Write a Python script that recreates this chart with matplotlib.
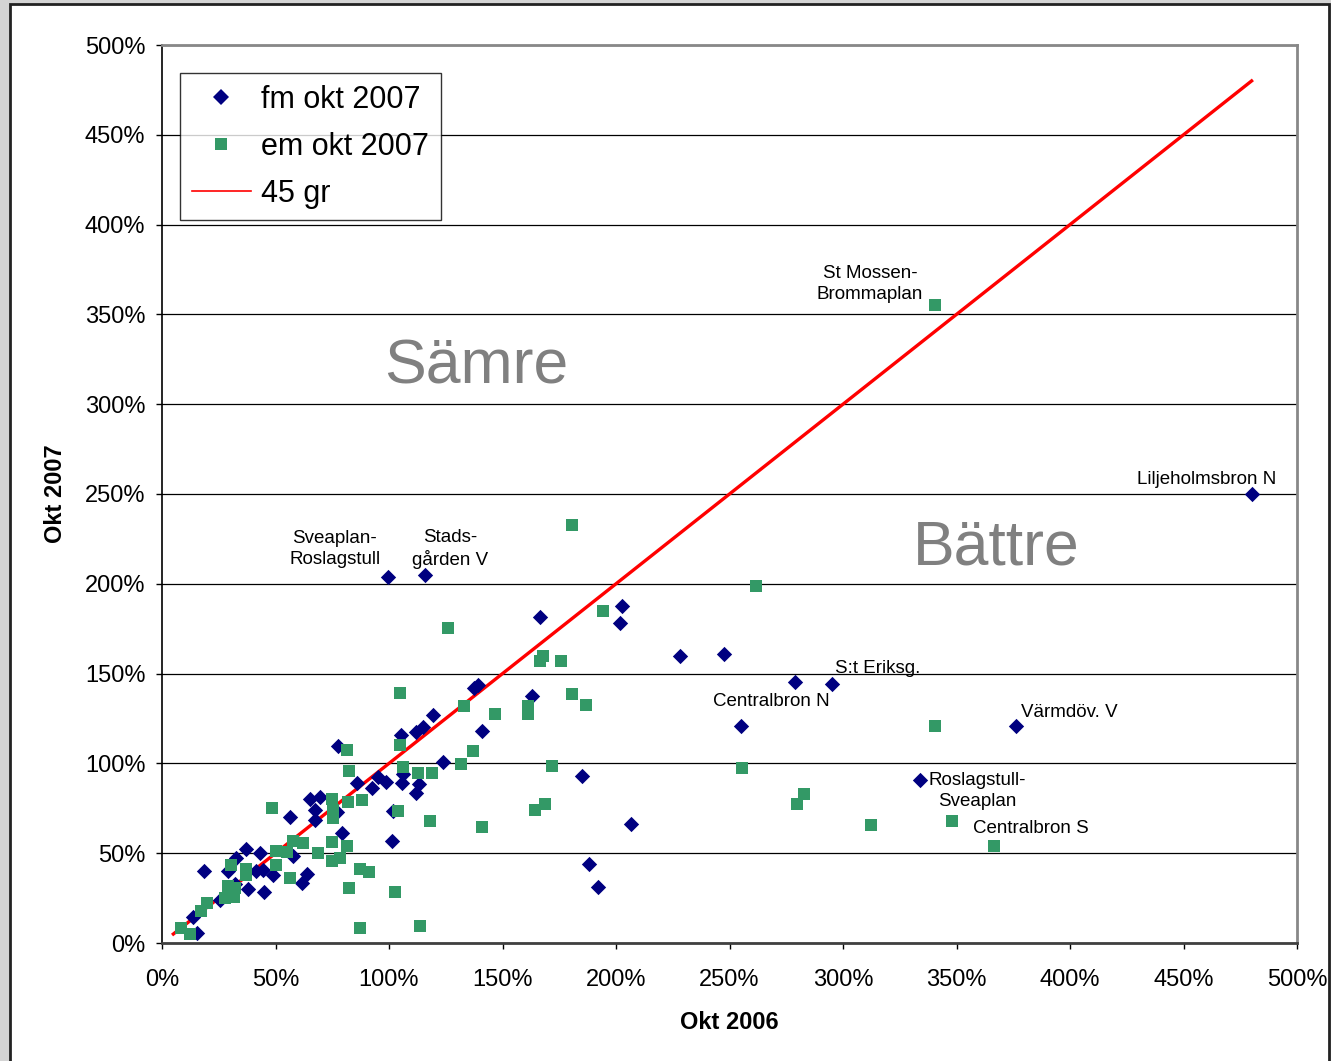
import matplotlib
matplotlib.use("Agg")
import matplotlib.pyplot as plt
from matplotlib.lines import Line2D
from matplotlib.patches import Rectangle
from matplotlib.ticker import FuncFormatter, MultipleLocator

plt.rcParams['font.family'] = ['Liberation Sans', 'DejaVu Sans']

# fm okt 2007 (x = okt 2006 %, y = okt 2007 %)
fm_x = [480, 99.6, 115.9, 295, 279, 255, 376, 334, 202.6, 201.6, 166.5, 228, 247.6,
        162.9, 185, 206.6, 188, 192, 137.4, 139, 141, 119.6, 115.1, 112, 105.5,
        123.7, 77.6, 113, 112, 105.6, 85.8, 95.3, 98.7, 92.4, 106.3, 101.5, 101.9,
        77.3, 79.1, 69.6, 65.2, 67.4, 67.4, 56.4, 43.2, 37, 32.6, 29.2, 18.6, 41.4,
        44.6, 49, 38, 45, 61.5, 63.7, 57.6, 25.6, 13.8, 15.3, 32]
fm_y = [250, 204, 205, 144, 145.3, 121, 121, 91, 187.7, 178.3, 181.7, 160, 161,
        137.5, 93, 66.3, 44, 31, 142.2, 143.5, 118.2, 127, 120, 117.7, 115.7,
        101, 109.7, 88.3, 83.5, 88.9, 88.9, 92.3, 89.8, 86.1, 94, 57, 73.7,
        73.1, 61.4, 81.5, 80.2, 74, 68.5, 70, 50, 52.2, 47.2, 40.1, 40.3, 40.3,
        40.6, 37.9, 29.9, 28.6, 33.2, 38.4, 48.4, 24, 14.6, 5.4, 33]

# em okt 2007
em_x = [340.5, 366.5, 180.6, 261.7, 194.3, 126, 167.8, 166.5, 175.8, 180.6, 186.8,
        161.2, 161.2, 146.5, 133, 104.8, 137, 131.8, 171.8, 119.1, 112.6, 106,
        104.8, 81.3, 82.2, 118, 141, 168.7, 164.3, 255.5, 279.7, 282.8, 312.3,
        340.5, 348, 102.6, 113.5, 87.2, 82.4, 87.2, 91, 48.4, 103.8, 81.4, 74.7,
        78.4, 74.7, 75.5, 75.2, 82.1, 88, 56.2, 57.6, 62.3, 50.4, 54.9, 50.2, 68.8,
        74.7, 30.6, 37, 37, 29.2, 32.2, 27.8, 31.7, 20, 17, 8.3, 12.5]
em_y = [355.2, 54, 232.7, 198.8, 184.9, 175.3, 159.8, 157, 157, 138.6, 132.5,
        132, 127.5, 127.4, 132, 139.3, 106.7, 99.6, 98.6, 94.8, 94.8, 98.2,
        110, 107.7, 96, 68, 64.6, 77.4, 74, 97.4, 77.4, 83, 65.7,
        120.8, 68, 28.3, 9.5, 8.5, 30.5, 41.4, 39.6, 75, 73.6, 53.9, 45.8,
        47.2, 80, 74.1, 69.4, 78.7, 79.6, 36.3, 57, 55.5, 51.5, 50.7, 43.4, 50.2,
        56.4, 43.4, 41, 38, 31.7, 30.4, 24.9, 25.8, 22.4, 18, 8.6, 5]

line_45 = [5, 480]

labels = ["St Mossen-\nBrommaplan", "Liljeholmsbron N", "Sveaplan-\nRoslagstull",
          "Stads-\ngården V", "S:t Eriksg.", "Centralbron N", "Värmdöv. V",
          "Roslagstull-\nSveaplan", "Centralbron S"]
label_x = [311.9, 460.4, 76.2, 126.9, 315.4, 268.3, 399.6, 359, 382.8]
label_y = [366.9, 257.8, 219.4, 219.4, 153.1, 134.7, 128.6, 84.6, 64]

fig = plt.figure(figsize=(13.31, 10.61), dpi=100)
fig.patch.set_facecolor('#d4d4d4')
fig.patches.append(Rectangle((10 / 1331, -0.01), 1319 / 1331, 1 - 4 / 1061 + 0.01,
                             transform=fig.transFigure, facecolor='white',
                             edgecolor='#222222', linewidth=2, zorder=-5))

ax = fig.add_axes([162 / 1331, 118 / 1061, 1135 / 1331, 898 / 1061])
ax.set_facecolor('white')

ax.plot(line_45, line_45, color='#ff0000', linewidth=2.4, zorder=2)
ax.scatter(fm_x, fm_y, marker='D', s=7.8 ** 2, color='#000080', linewidths=0, zorder=3)
ax.scatter(em_x, em_y, marker='s', s=9 ** 2, color='#339966', linewidths=0, zorder=4)

for t, x, y in zip(labels, label_x, label_y):
    ax.text(x, y, t, ha='center', va='center', fontsize=13.5, color='black',
            linespacing=1.25, zorder=5)

ax.text(138.3, 320.5, "Sämre", ha='center', va='center', fontsize=45, color='#808080')
ax.text(367.4, 220, "Bättre", ha='center', va='center', fontsize=45, color='#808080')

ax.set_xlim(0, 500)
ax.set_ylim(0, 500)
ax.xaxis.set_major_locator(MultipleLocator(50))
ax.yaxis.set_major_locator(MultipleLocator(50))
pct = FuncFormatter(lambda v, p: f"{v:.0f}%")
ax.xaxis.set_major_formatter(pct)
ax.yaxis.set_major_formatter(pct)
ax.grid(axis='y', color='#000000', linewidth=0.9, zorder=1)
ax.set_axisbelow(True)

ax.spines['left'].set_color('black')
ax.spines['left'].set_linewidth(1.2)
ax.spines['bottom'].set_color('#404040')
ax.spines['bottom'].set_linewidth(2)
for s in ['top', 'right']:
    ax.spines[s].set_color('#888888')
    ax.spines[s].set_linewidth(2)

ax.tick_params(axis='both', direction='out', length=4, width=1, labelsize=17, color='black')
ax.tick_params(axis='x', pad=14.5)
ax.tick_params(axis='y', pad=8)

ax.set_xlabel("Okt 2006", fontsize=17, fontweight='bold')
ax.set_ylabel("Okt 2007", fontsize=17, fontweight='bold')
ax.xaxis.set_label_coords(0.5, -0.0755)
ax.yaxis.set_label_coords(-0.084, 0.5)

handles = [
    Line2D([], [], marker='D', linestyle='none', color='#000080', markersize=8, markeredgewidth=0),
    Line2D([], [], marker='s', linestyle='none', color='#339966', markersize=9, markeredgewidth=0),
    Line2D([], [], color='#ff0000', linewidth=1.2),
]
leg = ax.legend(handles, ["fm okt 2007", "em okt 2007", "45 gr"], loc='upper left',
                bbox_to_anchor=(0.0159, 0.9688), borderaxespad=0, fontsize=22,
                frameon=True, fancybox=False, handlelength=1.95, handletextpad=0.33,
                labelspacing=0.56, borderpad=0.38)
leg.get_frame().set_edgecolor('black')
leg.get_frame().set_linewidth(1)

fig.savefig("out.png", dpi=100, facecolor=fig.get_facecolor())
